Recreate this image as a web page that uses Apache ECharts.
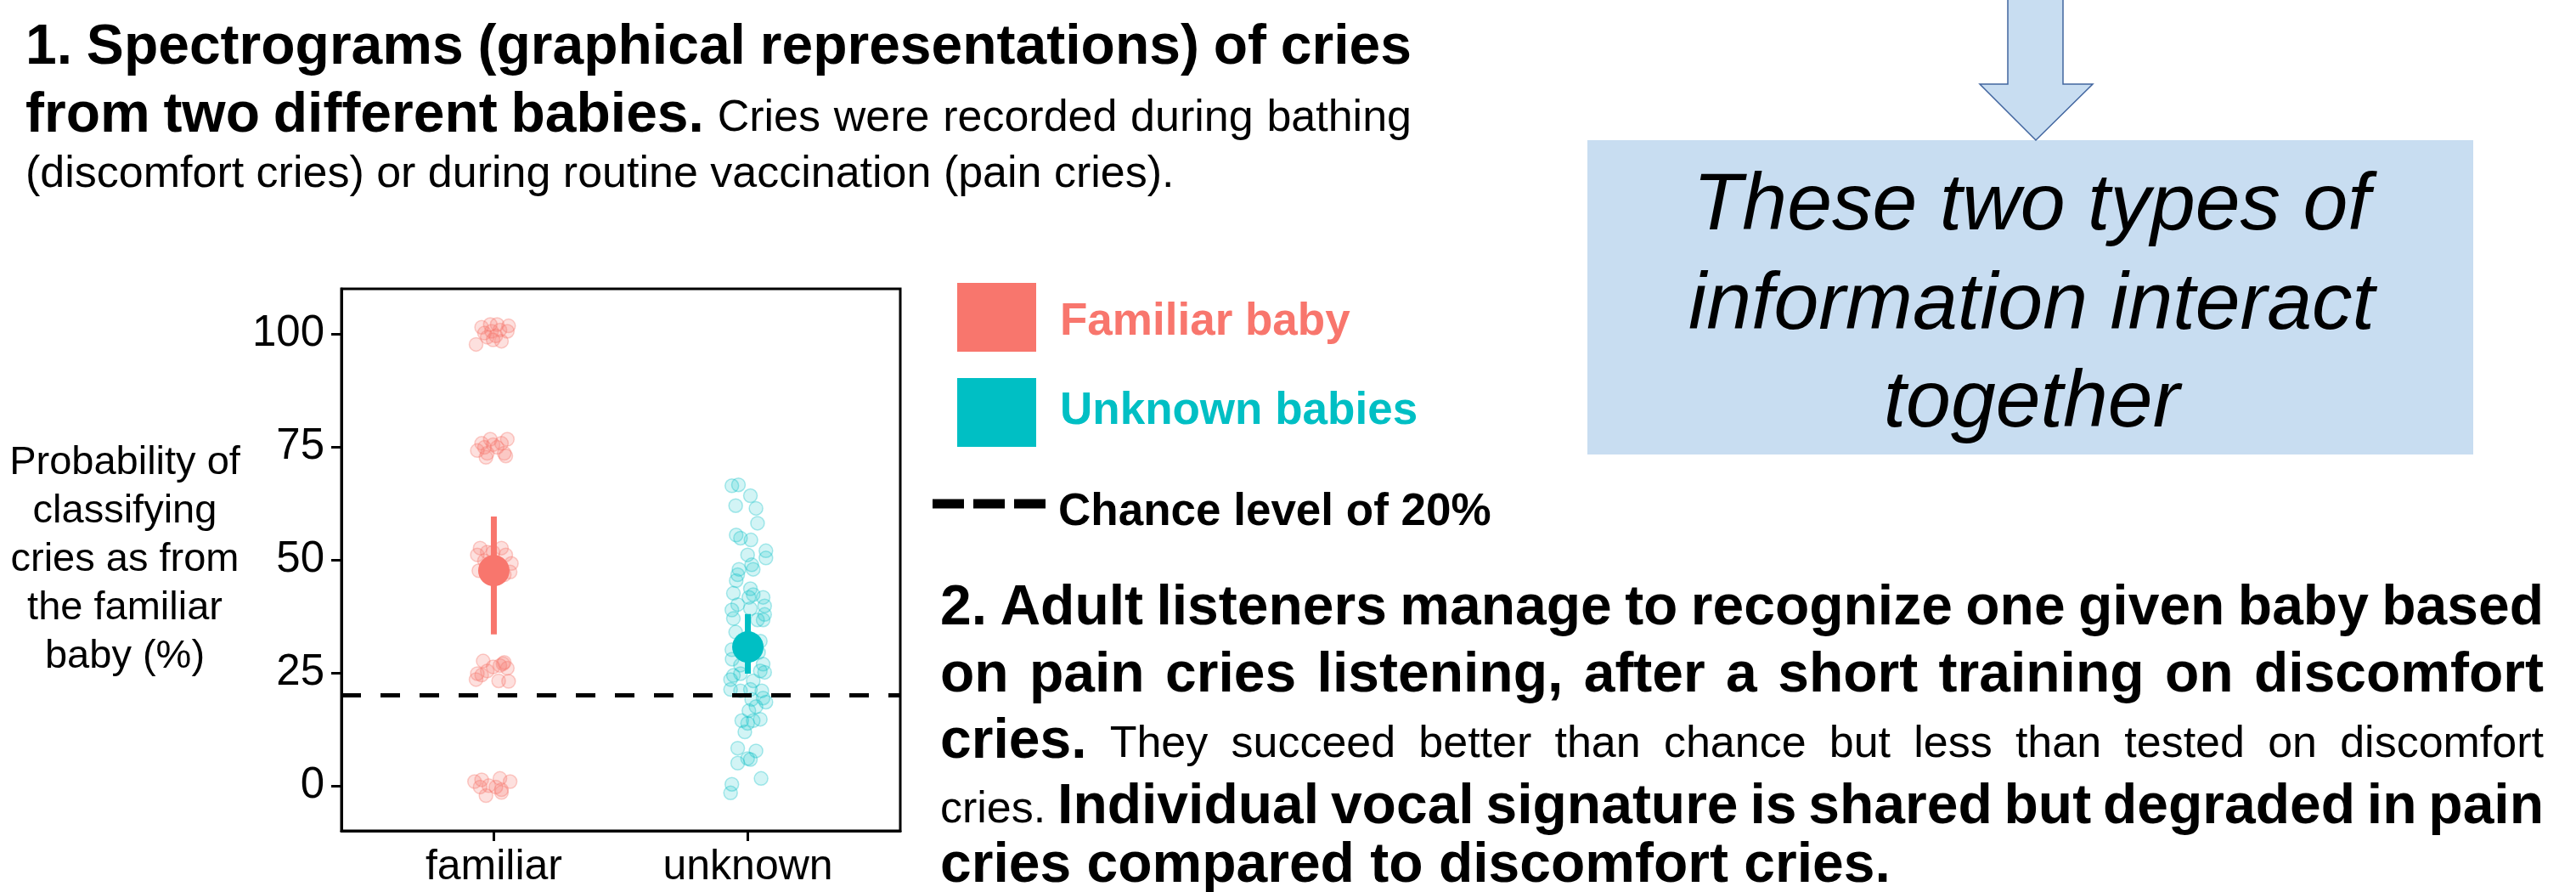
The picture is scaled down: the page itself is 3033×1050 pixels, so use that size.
<!DOCTYPE html>
<html>
<head>
<meta charset="utf-8">
<title>Recognition of a familiar baby from pain cries</title>
<script src="https://cdn.jsdelivr.net/npm/echarts@6/dist/echarts.min.js"></script>
<style>
  html, body { margin: 0; padding: 0; background: #fff; }
  #chart { width: 3033px; height: 1050px; }
</style>
</head>
<body>
<div id="chart"></div>
<script>
// x categories and y ticks
const categories = ["familiar", "unknown"];
const yTicks = [0, 25, 50, 75, 100];
const chanceLevel = 20;

// individual listeners, familiar baby (x = jittered position around 1)
const familiarX = [
  0.952, 0.986, 1.013, 1.058, 0.963, 0.991, 1.024, 1.053, 0.974, 1.008, 1.030, 0.997, 0.930,
  0.952, 0.986, 1.053, 0.963, 0.997, 1.030, 0.935, 0.974, 1.041, 0.969, 1.047, 1.013,
  0.946, 1.030, 0.935, 0.974, 1.069, 1.064, 0.941, 1.041, 1.047, 0.997, 0.963, 1.019,
  0.958, 1.041, 0.997, 1.024, 0.935, 0.974, 1.053, 0.930, 1.019, 1.058, 0.952, 1.036,
  0.924, 0.952, 1.024, 1.064, 0.980, 1.008, 0.946, 1.030, 0.969, 1.030
];
const familiarY = [
  101.5, 102.1, 102.1, 101.8, 100.2, 100.6, 100.9, 100.6, 99.3, 99.6, 98.4, 98.7, 97.7,
  75.8, 76.7, 76.7, 74.9, 75.5, 75.8, 74.2, 73.6, 73.6, 72.7, 73.0, 74.9,
  52.6, 52.6, 51.1, 51.7, 49.2, 47.3, 47.6, 46.7, 51.1, 51.7, 49.8, 48.6,
  27.6, 27.3, 26.3, 26.6, 24.8, 25.4, 26.0, 23.5, 23.2, 23.1, 24.5, 27.0,
  0.9, 1.3, 1.6, 0.9, 0.0, -0.3, -0.3, -0.9, -2.2, -1.5
];

// individual listeners, unknown babies (x = jittered position around 2)
const unknownX = [
  1.937, 1.963, 2.010, 1.952, 2.032, 2.038, 1.954, 1.971, 2.012, 2.071, 2.071, 1.999,
  2.015, 1.965, 2.021, 1.954, 1.960, 1.943, 2.010, 2.021, 2.004, 2.060, 1.960, 2.066,
  2.010, 1.937, 2.066, 1.943, 2.038, 2.060, 1.937, 1.971, 2.060, 1.938, 2.049, 1.952,
  2.042, 1.943, 1.971, 1.932, 2.049, 2.066, 2.021, 1.932, 1.971, 2.010, 2.055, 2.060,
  2.015, 2.071, 2.032, 2.004, 2.049, 1.976, 1.999, 2.021, 1.988, 1.960, 2.032, 1.960,
  1.999, 2.010, 2.052, 1.937, 1.932
];
const unknownY = [
  66.4, 66.6, 64.2, 62.0, 61.4, 58.1, 55.5, 54.8, 54.4, 52.0, 50.4, 51.1,
  48.9, 47.9, 47.9, 45.4, 46.7, 42.6, 43.6, 42.3, 41.7, 41.7, 40.1, 39.8,
  39.2, 38.9, 37.9, 37.0, 36.7, 36.7, 30.1, 26.7, 26.9, 28.0, 32.0, 34.0,
  29.5, 24.4, 24.8, 23.5, 25.4, 25.1, 23.2, 21.3, 21.0, 21.3, 21.0, 19.4,
  19.1, 18.5, 17.5, 16.6, 14.7, 14.4, 13.8, 14.4, 11.9, 8.3, 7.7, 5.0,
  6.0, 5.8, 1.6, 0.3, -1.6
];

// group means with their intervals
const groupMeans = [47.6, 30.7];
const errLow = [33.5, 24.8];
const errHigh = [59.6, 38.0];

const colors = ["#F8766D", "#00BFC4"];
const fadedFill = ["rgba(248,118,109,0.28)", "rgba(0,191,196,0.22)"];
const fadedLine = ["rgba(248,118,109,0.45)", "rgba(0,191,196,0.4)"];

// ---- text helpers (graphic text, placed by baseline) ----
const FAMILY = '"Liberation Sans", Arial, sans-serif';
const measureCtx = document.createElement("canvas").getContext("2d");
const MID = 0.25; // distance baseline -> middle, in em

function fontOf(size, bold, italic) {
  return (italic ? "italic " : "") + (bold ? "bold " : "") + size + "px " + FAMILY;
}
function widthOf(str, font) {
  measureCtx.font = font;
  return measureCtx.measureText(str).width;
}
function textEl(str, x, baseline, size, opt) {
  opt = opt || {};
  return {
    type: "text",
    silent: true,
    style: {
      text: str,
      x: x,
      y: baseline - MID * size,
      font: fontOf(size, opt.bold, opt.italic),
      fill: opt.color || "#000",
      align: opt.align || "left",
      textAlign: opt.align || "left",
      verticalAlign: "middle",
      textVerticalAlign: "middle"
    }
  };
}
// one line of a paragraph, segments = [text, bold, size]
function paragraphLine(segs, x0, x1, baseline, justify) {
  const words = [];
  segs.forEach(([text, bold, size]) => {
    text.split(" ").forEach(w => { if (w) words.push({ w, bold, size }); });
  });
  const widths = words.map(o => widthOf(o.w, fontOf(o.size, o.bold)));
  const total = widths.reduce((a, b) => a + b, 0);
  const gap = justify ? (x1 - x0 - total) / (words.length - 1) : null;
  const out = [];
  let x = x0;
  words.forEach((o, i) => {
    out.push(textEl(o.w, x, baseline, o.size, { bold: o.bold }));
    x += widths[i] + (justify ? gap : widthOf(" ", fontOf(o.size, o.bold)));
  });
  return out;
}

const B = 66, R = 52;
const textGraphics = [].concat(
  // paragraph 1
  paragraphLine([["1. Spectrograms (graphical representations) of cries", true, B]], 30, 1662, 73, true),
  paragraphLine([["from two different babies.", true, B], ["Cries were recorded during bathing", false, R]], 30, 1662, 153, true),
  paragraphLine([["(discomfort cries) or during routine vaccination (pain cries).", false, R]], 30, 1662, 219, false),
  // paragraph 2
  paragraphLine([["2. Adult listeners manage to recognize one given baby based", true, B]], 1107, 2995, 733, true),
  paragraphLine([["on pain cries listening, after a short training on discomfort", true, B]], 1107, 2995, 812, true),
  paragraphLine([["cries.", true, B], ["They succeed better than chance but less than tested on discomfort", false, R]], 1107, 2995, 890, true),
  paragraphLine([["cries.", false, R], ["Individual vocal signature is shared but degraded in pain", true, B]], 1107, 2995, 967, true),
  paragraphLine([["cries compared to discomfort cries.", true, B]], 1107, 2995, 1036, false)
);

// box + arrow on the right
const boxGraphics = [
  { type: "rect", silent: true, shape: { x: 1869, y: 165, width: 1043, height: 370 },
    style: { fill: "#c8ddf1" } },
  { type: "polygon", silent: true,
    shape: { points: [[2364, -5], [2364, 99], [2331, 99], [2397, 165], [2464, 99], [2429, 99], [2429, -5]] },
    style: { fill: "#c8ddf1", stroke: "#41659f", lineWidth: 1.5 } },
  textEl("These two types of", 2392, 267, 95, { italic: true, align: "center" }),
  textEl("information interact", 2392, 384, 95, { italic: true, align: "center" }),
  textEl("together", 2392, 499, 95, { italic: true, align: "center" })
];

// legend
const legendGraphics = [
  { type: "rect", silent: true, shape: { x: 1127, y: 333, width: 93, height: 81 }, style: { fill: colors[0] } },
  { type: "rect", silent: true, shape: { x: 1127, y: 445, width: 93, height: 81 }, style: { fill: colors[1] } },
  textEl("Familiar baby", 1248, 393, 53, { bold: true, color: colors[0] }),
  textEl("Unknown babies", 1248, 498, 53, { bold: true, color: colors[1] }),
  { type: "line", silent: true, shape: { x1: 1098, y1: 593, x2: 1232, y2: 593 },
    style: { stroke: "#000", lineWidth: 11, lineDash: [37, 11] } },
  textEl("Chance level of 20%", 1246, 617, 53, { bold: true })
];

const chart = echarts.init(document.getElementById("chart"), null, { renderer: "canvas" });

const pointSeries = [[familiarX, familiarY], [unknownX, unknownY]].map(([xs, ys], i) => ({
  type: "scatter",
  name: categories[i],
  data: xs.map((x, k) => [x, ys[k]]),
  symbolSize: 16,
  itemStyle: { color: fadedFill[i], borderColor: fadedLine[i], borderWidth: 1.5 },
  z: 2
}));

const errorSeries = categories.map((c, i) => ({
  type: "line",
  name: c + " interval",
  data: [[i + 1, errLow[i]], [i + 1, errHigh[i]]],
  symbol: "none",
  lineStyle: { color: colors[i], width: 7, cap: "butt" },
  z: 3
}));

const meanSeries = categories.map((c, i) => ({
  type: "scatter",
  name: c + " mean",
  data: [[i + 1, groupMeans[i]]],
  symbolSize: 37,
  itemStyle: { color: colors[i], opacity: 1 },
  z: 4
}));

meanSeries[1].markLine = {
  silent: true,
  symbol: ["none", "none"],
  label: { show: false },
  lineStyle: { color: "#000", width: 5, type: [23, 23] },
  data: [{ yAxis: chanceLevel }],
  z: 6
};

chart.setOption({
  animation: false,
  backgroundColor: "#fff",
  textStyle: { fontFamily: FAMILY },
  grid: {
    left: 402, top: 340, width: 658, height: 638,
    show: true, borderColor: "#000", borderWidth: 3,
    containLabel: false, outerBoundsMode: "none"
  },
  xAxis: {
    type: "value",
    min: 0.4, max: 2.6,
    axisLine: { show: true, onZero: false, lineStyle: { color: "#000", width: 3 } },
    axisTick: { show: true, length: 12, lineStyle: { color: "#000", width: 3 }, customValues: [1, 2] },
    axisLabel: {
      customValues: [1, 2],
      formatter: v => categories[Math.round(v) - 1] || "",
      color: "#000", fontSize: 50, lineHeight: 50, margin: 18, fontFamily: FAMILY
    },
    splitLine: { show: false }
  },
  yAxis: {
    type: "value",
    min: -10, max: 110,
    name: "Probability of\nclassifying\ncries as from\nthe familiar\nbaby (%)",
    nameLocation: "middle",
    nameRotate: 0,
    nameGap: 255,
    nameTextStyle: {
      color: "#000", fontSize: 47, lineHeight: 57, fontFamily: FAMILY,
      align: "center", verticalAlign: "middle"
    },
    axisLine: { show: true, onZero: false, lineStyle: { color: "#000", width: 3 } },
    axisTick: { show: true, length: 12, lineStyle: { color: "#000", width: 3 }, customValues: yTicks },
    axisLabel: { customValues: yTicks, color: "#000", fontSize: 51, margin: 20, fontFamily: FAMILY },
    splitLine: { show: false }
  },
  series: [].concat(pointSeries, errorSeries, meanSeries),
  graphic: { elements: [].concat(boxGraphics, legendGraphics, textGraphics) }
});

window.addEventListener("resize", () => chart.resize());
</script>
</body>
</html>
